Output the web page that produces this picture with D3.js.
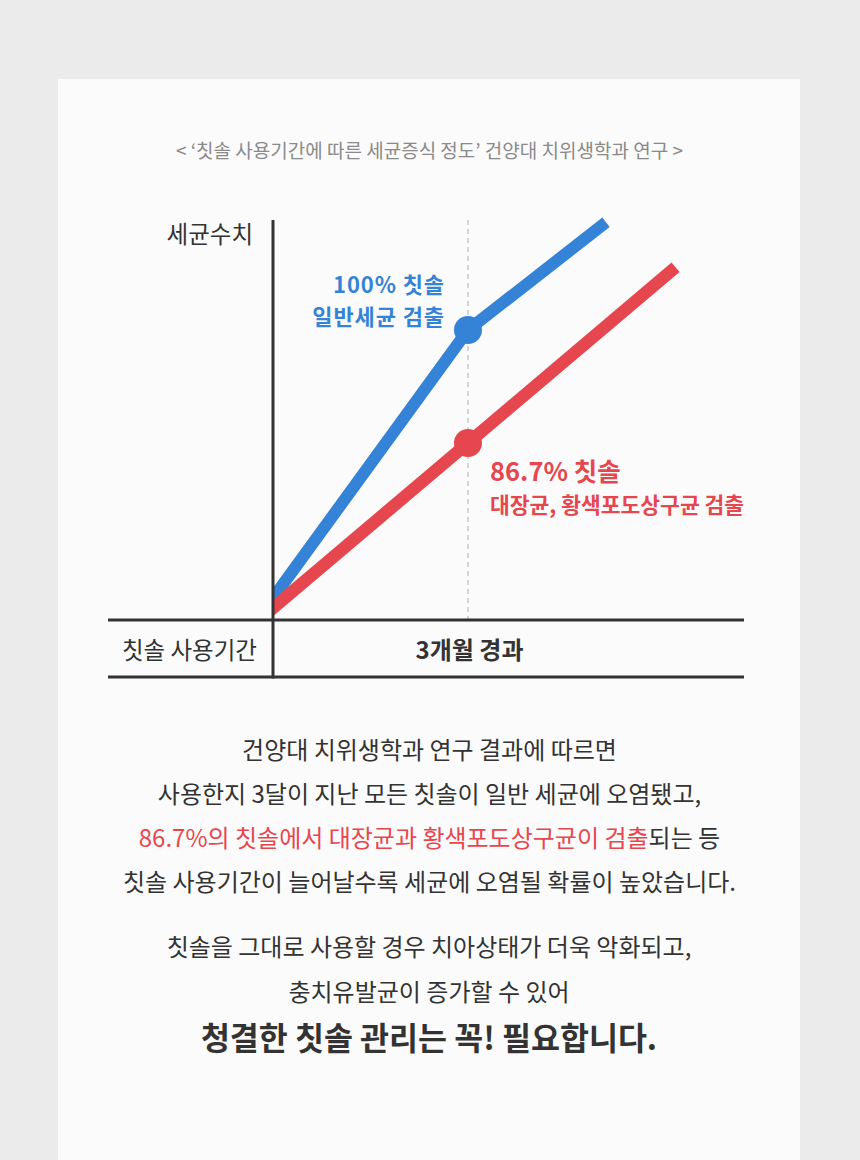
<!DOCTYPE html>
<html><head><meta charset="utf-8">
<script src="https://cdn.jsdelivr.net/npm/d3@7"></script>
<style>
html,body{margin:0;padding:0;background:#ebebeb;}
svg{display:block;}
text{font-family:"Noto Sans CJK KR","Noto Sans",sans-serif;}
</style></head>
<body>
<svg id="c" width="860" height="1160"></svg>
<script>
// ---- data ----
const title = "< ‘칫솔 사용기간에 따른 세균증식 정도’ 건양대 치위생학과 연구 >";
const yAxisLabel = "세균수치";
const xAxisLabel = "칫솔 사용기간";
const xTickLabels = ["3개월 경과"];
const xTickMonths = [3];
const months = [0, 3, 5.05];
const generalBacteria = [5.5, 72.5, 98.5];        // blue series
const monthsRed = [0, 3, 6.12];
const coliformBacteria = [3, 44.25, 87.2];       // red series
const blueLabel = ["100% 칫솔", "일반세균 검출"];
const redLabel = ["86.7% 칫솔", "대장균, 황색포도상구균 검출"];
const para1 = [
  [["건양대 치위생학과 연구 결과에 따르면", "n"]],
  [["사용한지 3달이 지난 모든 칫솔이 일반 세균에 오염됐고,", "n"]],
  [["86.7%의 칫솔에서 대장균과 황색포도상구균이 검출", "r"], ["되는 등", "n"]],
  [["칫솔 사용기간이 늘어날수록 세균에 오염될 확률이 높았습니다.", "n"]]
];
const para2 = ["칫솔을 그대로 사용할 경우 치아상태가 더욱 악화되고,", "충치유발균이 증가할 수 있어"];
const closing = "청결한 칫솔 관리는 꼭! 필요합니다.";

// ---- styles ----
const BLUE = "#3583d6", RED = "#e6474f", DARK = "#333333";

const svg = d3.select("#c");
svg.append("rect").attr("x",58).attr("y",79).attr("width",742).attr("height",1100).attr("fill","#fbfbfb");

const x = d3.scaleLinear().domain([0, 3]).range([273, 468]);
const y = d3.scaleLinear().domain([0, 100]).range([620, 220]);

svg.append("text").attr("x",429.5).attr("y",158).attr("text-anchor","middle")
  .attr("font-size",19).attr("fill","#8a8a8a").text(title);

svg.append("text").attr("x",253).attr("y",243).attr("text-anchor","end")
  .attr("font-size",23.5).attr("fill",DARK).text(yAxisLabel);

// dashed guide
svg.selectAll(".guide").data(xTickMonths).join("line").attr("class","guide")
  .attr("x1",d=>x(d)).attr("x2",d=>x(d)).attr("y1",y(100)).attr("y2",y(0))
  .attr("stroke","#bdbdbd").attr("stroke-width",1.2).attr("stroke-dasharray","5,4");

// clip for lines
svg.append("clipPath").attr("id","clip").append("rect")
  .attr("x",x(0)).attr("y",150).attr("width",500).attr("height",y(0)-150);

const line = d3.line().x(d=>x(d[0])).y(d=>y(d[1]));
const g = svg.append("g").attr("clip-path","url(#clip)");
g.append("path").datum(d3.zip(months, generalBacteria)).attr("d",line)
  .attr("fill","none").attr("stroke",BLUE).attr("stroke-width",12).attr("stroke-linecap","square");
g.append("path").datum(d3.zip(monthsRed, coliformBacteria)).attr("d",line)
  .attr("fill","none").attr("stroke",RED).attr("stroke-width",12.5).attr("stroke-linecap","square");

svg.append("circle").attr("cx",x(months[1])).attr("cy",y(generalBacteria[1])).attr("r",14).attr("fill",BLUE);
svg.append("circle").attr("cx",x(monthsRed[1])).attr("cy",y(coliformBacteria[1])).attr("r",14).attr("fill",RED);

// axes frame
svg.append("line").attr("x1",x(0)).attr("x2",x(0)).attr("y1",220).attr("y2",678.5).attr("stroke",DARK).attr("stroke-width",3);
svg.append("line").attr("x1",108).attr("x2",744).attr("y1",y(0)).attr("y2",y(0)).attr("stroke",DARK).attr("stroke-width",3);
svg.append("line").attr("x1",108).attr("x2",744).attr("y1",677).attr("y2",677).attr("stroke",DARK).attr("stroke-width",3);

svg.append("text").attr("x",189.5).attr("y",659).attr("text-anchor","middle")
  .attr("font-size",23.5).attr("fill",DARK).text(xAxisLabel);
svg.selectAll(".xt").data(xTickLabels).join("text").attr("class","xt")
  .attr("x",(d,i)=>x(xTickMonths[i])+1.5).attr("y",659).attr("text-anchor","middle")
  .attr("font-size",24).attr("font-weight",700).attr("fill",DARK).text(d=>d);

// series labels
svg.selectAll(".bl").data(blueLabel).join("text").attr("class","bl")
  .attr("x",445).attr("y",(d,i)=>293+i*31.5).attr("text-anchor","end")
  .attr("font-size",22).attr("letter-spacing",0.9).attr("font-weight",700).attr("fill",BLUE).text(d=>d);
svg.append("text").attr("x",490).attr("y",481).attr("font-size",25.5).attr("font-weight",700).attr("fill",RED).text(redLabel[0]);
svg.append("text").attr("x",490).attr("y",513).attr("font-size",21.5).attr("font-weight",700).attr("fill",RED).text(redLabel[1]);

// paragraphs
para1.forEach((parts,i)=>{
  const t = svg.append("text").attr("x",429.5).attr("y",759+i*44).attr("text-anchor","middle")
    .attr("font-size",24).attr("fill",DARK);
  parts.forEach(p=>t.append("tspan").attr("fill",p[1]==="r"?RED:DARK).text(p[0]));
});
para2.forEach((s,i)=>{
  svg.append("text").attr("x",429).attr("y",956+i*45).attr("text-anchor","middle")
    .attr("font-size",24).attr("fill",DARK).text(s);
});
svg.append("text").attr("x",429).attr("y",1050).attr("text-anchor","middle")
  .attr("font-size",31.5).attr("font-weight",700).attr("fill",DARK).text(closing);
</script>
</body></html>
